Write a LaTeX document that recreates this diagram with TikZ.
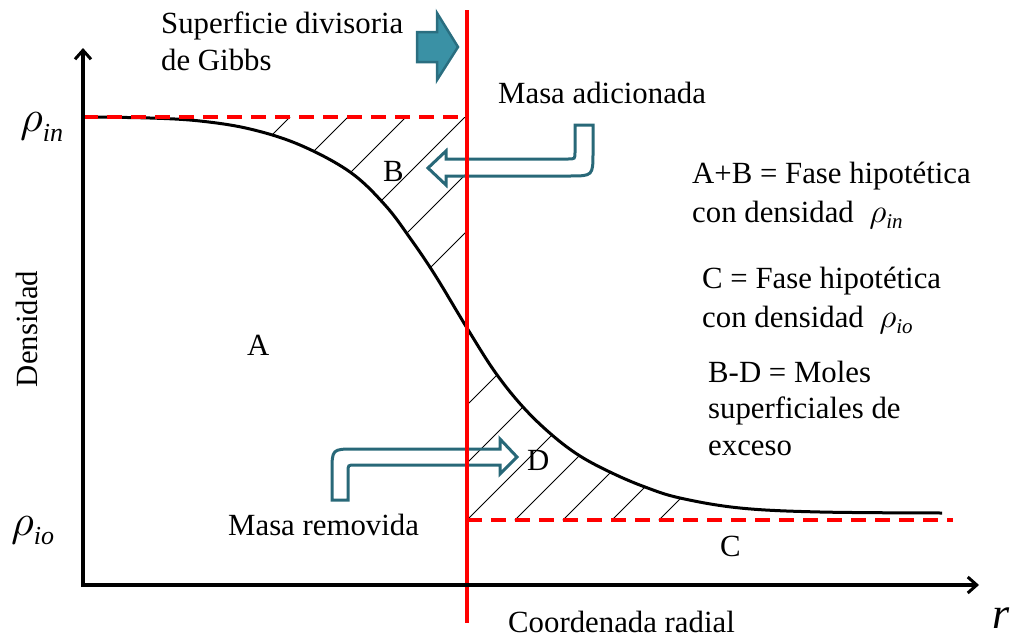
\documentclass[tikz,border=0pt]{standalone}
\usepackage{graphicx}
\usepackage{fontspec}
\setmainfont{Liberation Serif}
\usetikzlibrary{arrows.meta}
\definecolor{tealline}{RGB}{40,104,120}
\definecolor{tealfill}{RGB}{58,145,165}
\definecolor{tealedge}{RGB}{42,110,128}
\definecolor{redline}{RGB}{255,0,0}
% #1 rho scale, #2 subscript size, #3 lowering (pt), #4 subscript
\newcommand{\rhosub}[4]{{\scalebox{#1}{\fontsize{10}{12}\selectfont$\rho$}\raisebox{-#3pt}{\fontsize{#2}{#2}\selectfont\itshape #4}}}
\begin{document}
\begin{tikzpicture}[x=1pt,y=-1pt,
  lbl/.style={font=\fontsize{30.8}{36}\selectfont, inner sep=0pt, anchor=base west},
  axisline/.style={line width=3.5pt, -{Straight Barb[length=9pt,width=16pt,line width=3pt]}},
  curveline/.style={line width=3pt, black},
  hatchline/.style={line width=1pt, black},
  reddash/.style={line width=3.5pt, redline, dash pattern=on 15pt off 9pt},
  redsolid/.style={line width=3.5pt, redline},
  hollowarrow/.style={line width=3pt, tealline, line join=miter},
  blockarrow/.style={line width=2.5pt, draw=tealedge, fill=tealfill, line join=miter}]
\useasboundingbox (0,0) rectangle (1013,640);

% hatch in region B
\begin{scope}
  \clip (83,100) rectangle (467,400);
  \clip plot[smooth,tension=0.6] coordinates {(83,117) (150,118) (200,121) (250,129) (300,145) (350,172) (385,205) (410,238) (435,275) (467,328) (495,372) (523,407) (552,435) (580,456) (612,473) (645,487) (680,498) (740,508) (820,512) (942,513)} -- (942,117) -- cycle;
  \foreach \c in {407,465,523,582,640,698} \draw[hatchline] (\c-100,100) -- (\c-500,500);
\end{scope}
% hatch in region D
\begin{scope}
  \clip (467,300) rectangle (950,520);
  \clip plot[smooth,tension=0.6] coordinates {(83,117) (150,118) (200,121) (250,129) (300,145) (350,172) (385,205) (410,238) (435,275) (467,328) (495,372) (523,407) (552,435) (580,456) (612,473) (645,487) (680,498) (740,508) (820,512) (942,513)} -- (942,520) -- (83,520) -- cycle;
  \foreach \c in {872,930,987,1035,1083,1132,1179} \draw[hatchline] (\c-300,300) -- (\c-600,600);
\end{scope}

% density profile
\draw[curveline] plot[smooth,tension=0.6] coordinates {(83,117) (150,118) (200,121) (250,129) (300,145) (350,172) (385,205) (410,238) (435,275) (467,328) (495,372) (523,407) (552,435) (580,456) (612,473) (645,487) (680,498) (740,508) (820,512) (942,513)};

% dashed reference densities
\coordinate (din1) at (83,117);
\coordinate (din2) at (467,117);
\coordinate (dio1) at (467,520);
\coordinate (dio2) at (953,520);
\draw[reddash] (din1) -- (din2);
\draw[reddash] (dio1) -- (dio2);

% hollow arrows
\draw[hollowarrow] (575,125) -- (593,125) -- (593,152) .. controls (593,176) .. (569,176) -- (446,176) -- (446,185) -- (428,168) -- (446,151) -- (446,159) -- (568,159) .. controls (575,159) .. (575,152) -- cycle;
\draw[hollowarrow] (332,500) -- (332,472) .. controls (332,449) .. (355,449) -- (500,449) -- (500,439) -- (517,457) -- (500,474) -- (500,465) -- (355,465) .. controls (348,465) .. (348,472) -- (348,500) -- cycle;

% block arrow
\draw[blockarrow] (417,32) -- (437,32) -- (437,13) -- (458,47) -- (437,80) -- (437,62) -- (417,62) -- cycle;

% Gibbs dividing surface
\coordinate (gtop) at (467,10);
\coordinate (gbot) at (467,623);
\draw[redsolid] (gtop) -- (gbot);

% axes
\coordinate (O) at (83,587);
\coordinate (ytop) at (83,48);
\coordinate (xo) at (83,585);
\coordinate (xend) at (979,585);
\draw[axisline] (O) -- (ytop);
\draw[axisline] (xo) -- (xend);

% labels
\node[lbl] (sup1) at (161,33) {Superficie divisoria};
\node[lbl] (sup2) at (161,70) {de Gibbs};
\node[lbl] (madd) at (498,103) {Masa adicionada};
\node[lbl] (mrem) at (228,535) {Masa removida};
\node[lbl] (ab1) at (692,183) {A+B = Fase hipotética};
\node[lbl] (ab2) at (692,222) {con densidad\ \ \rhosub{3.3}{21}{6}{in}};
\node[lbl] (c1) at (702,288) {C = Fase hipotética};
\node[lbl] (c2) at (702,327) {con densidad\ \ \rhosub{3.3}{21}{6}{io}};
\node[lbl] (bd1) at (708,382) {B-D = Moles};
\node[lbl] (bd2) at (708,418) {superficiales de};
\node[lbl] (bd3) at (708,455) {exceso};
\node[lbl] (la) at (247,355) {A};
\node[lbl] (lb) at (383,181) {B};
\node[lbl] (lc) at (720,556) {C};
\node[lbl] (ld) at (527,470) {D};
\node[lbl] (xlab) at (508,632) {Coordenada radial};
\node[lbl, anchor=center, rotate=90] (ylab) at (27,329) {Densidad};
\node[lbl, font=\fontsize{44}{48}\selectfont\itshape] (rlab) at (992,628) {r};
\node[lbl] (rin) at (20,131) {\rhosub{4.4}{26}{10}{in}};
\node[lbl] (rio) at (11,535) {\rhosub{4.4}{26}{9}{io}};
\end{tikzpicture}
\end{document}
